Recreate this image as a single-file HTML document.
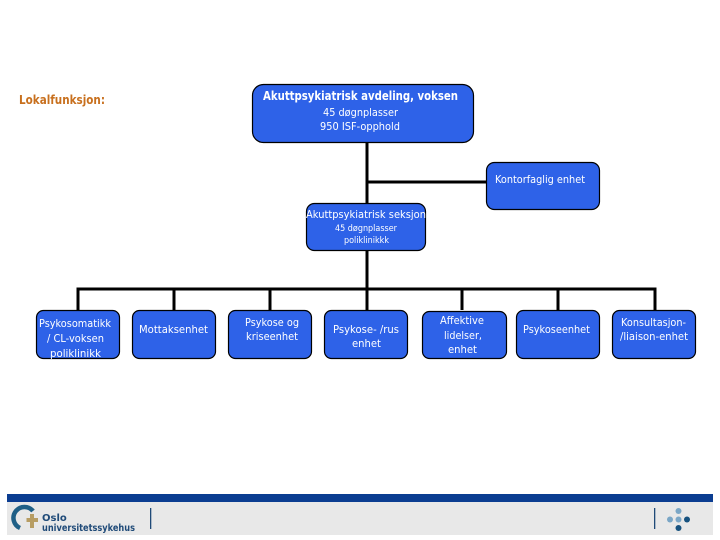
<!DOCTYPE html>
<html><head><meta charset="utf-8">
<style>
html,body{margin:0;padding:0;background:#fff;width:720px;height:540px;overflow:hidden}
svg{display:block}
text{font-family:"DejaVu Sans","Liberation Sans",sans-serif;fill:#fff;font-size:10.500px}
.b{font-weight:bold}
</style></head><body>
<svg width="720" height="540" viewBox="0 0 720 540" xmlns="http://www.w3.org/2000/svg">
<g stroke="#000" stroke-width="3" fill="none">
<path d="M367 143V310M367 182H486M78 310V289H655V310M174 289V310M270 289V310M462 289V310M558 289V310"/>
</g>
<g fill="#2e62e8" stroke="#000" stroke-width="1.200">
<rect x="252.500" y="84.500" width="221" height="58" rx="11"/>
<rect x="486.500" y="162.500" width="113" height="47" rx="8"/>
<rect x="306.500" y="203.500" width="119" height="47" rx="8"/>
<rect x="36.500" y="310.500" width="83" height="48" rx="7"/>
<rect x="132.500" y="310.500" width="83" height="48" rx="7"/>
<rect x="228.500" y="310.500" width="83" height="48" rx="7"/>
<rect x="324.500" y="310.500" width="83" height="48" rx="7"/>
<rect x="422.500" y="311.500" width="84" height="47" rx="7"/>
<rect x="516.500" y="310.500" width="83" height="48" rx="7"/>
<rect x="612.500" y="310.500" width="83" height="48" rx="7"/>
</g>
<text x="19" y="104" class="b" style="fill:#c8701e;font-size:12px" textLength="86" lengthAdjust="spacingAndGlyphs">Lokalfunksjon:</text>
<text x="263" y="100" class="b" style="font-size:12px" textLength="195" lengthAdjust="spacingAndGlyphs">Akuttpsykiatrisk avdeling, voksen</text>
<text x="323" y="116" textLength="75" lengthAdjust="spacingAndGlyphs">45 døgnplasser</text>
<text x="320" y="130" textLength="80" lengthAdjust="spacingAndGlyphs">950 ISF-opphold</text>
<text x="495" y="183" textLength="90" lengthAdjust="spacingAndGlyphs">Kontorfaglig enhet</text>
<text x="306" y="218" textLength="120" lengthAdjust="spacingAndGlyphs">Akuttpsykiatrisk seksjon</text>
<text x="335" y="231" style="font-size:8.500px" textLength="62" lengthAdjust="spacingAndGlyphs">45 døgnplasser</text>
<text x="344" y="243" style="font-size:8.500px" textLength="45" lengthAdjust="spacingAndGlyphs">poliklinikkk</text>
<text x="39" y="327" textLength="72" lengthAdjust="spacingAndGlyphs">Psykosomatikk</text>
<text x="47" y="342" textLength="57" lengthAdjust="spacingAndGlyphs">/ CL-voksen</text>
<text x="50" y="357" textLength="51" lengthAdjust="spacingAndGlyphs">poliklinikk</text>
<text x="139" y="333" textLength="69" lengthAdjust="spacingAndGlyphs">Mottaksenhet</text>
<text x="245" y="326" textLength="54" lengthAdjust="spacingAndGlyphs">Psykose og</text>
<text x="246" y="340" textLength="52" lengthAdjust="spacingAndGlyphs">kriseenhet</text>
<text x="333" y="333" textLength="66" lengthAdjust="spacingAndGlyphs">Psykose- /rus</text>
<text x="352" y="347" textLength="29" lengthAdjust="spacingAndGlyphs">enhet</text>
<text x="440" y="324" textLength="44" lengthAdjust="spacingAndGlyphs">Affektive</text>
<text x="444" y="339" textLength="38" lengthAdjust="spacingAndGlyphs">lidelser,</text>
<text x="448" y="353" textLength="29" lengthAdjust="spacingAndGlyphs">enhet</text>
<text x="523" y="333" textLength="67" lengthAdjust="spacingAndGlyphs">Psykoseenhet</text>
<text x="621" y="326" textLength="65" lengthAdjust="spacingAndGlyphs">Konsultasjon-</text>
<text x="620" y="340" textLength="68" lengthAdjust="spacingAndGlyphs">/liaison-enhet</text>
<rect x="7" y="494" width="706" height="8" fill="#0b3d91"/>
<rect x="7" y="502" width="706" height="33" fill="#e8e8e8"/>
<path d="M20 528A11 11 0 1 1 33 511" fill="none" stroke="#1f5f86" stroke-width="4.500"/>
<path d="M26.500 518h3.500v-4h4v4h4v4h-4v6h-4v-6h-3.500z" fill="#b79d63"/>
<text x="42" y="521" class="b" style="fill:#1f4a78;font-size:10px">Oslo</text>
<text x="42" y="531" class="b" style="fill:#1f4a78;font-size:10px" textLength="93" lengthAdjust="spacingAndGlyphs">universitetssykehus</text>
<rect x="150" y="508" width="1.300" height="21" fill="#1f4a78"/>
<rect x="654" y="508" width="1.300" height="21" fill="#1f4a78"/>
<circle cx="678.500" cy="511" r="3" fill="#7aa6c6"/>
<circle cx="670" cy="519.500" r="3" fill="#7aa6c6"/>
<circle cx="678.500" cy="519.500" r="3" fill="#7aa6c6"/>
<circle cx="687" cy="519.500" r="3" fill="#17527f"/>
<circle cx="678.500" cy="528" r="3" fill="#17527f"/>
</svg>
</body></html>
